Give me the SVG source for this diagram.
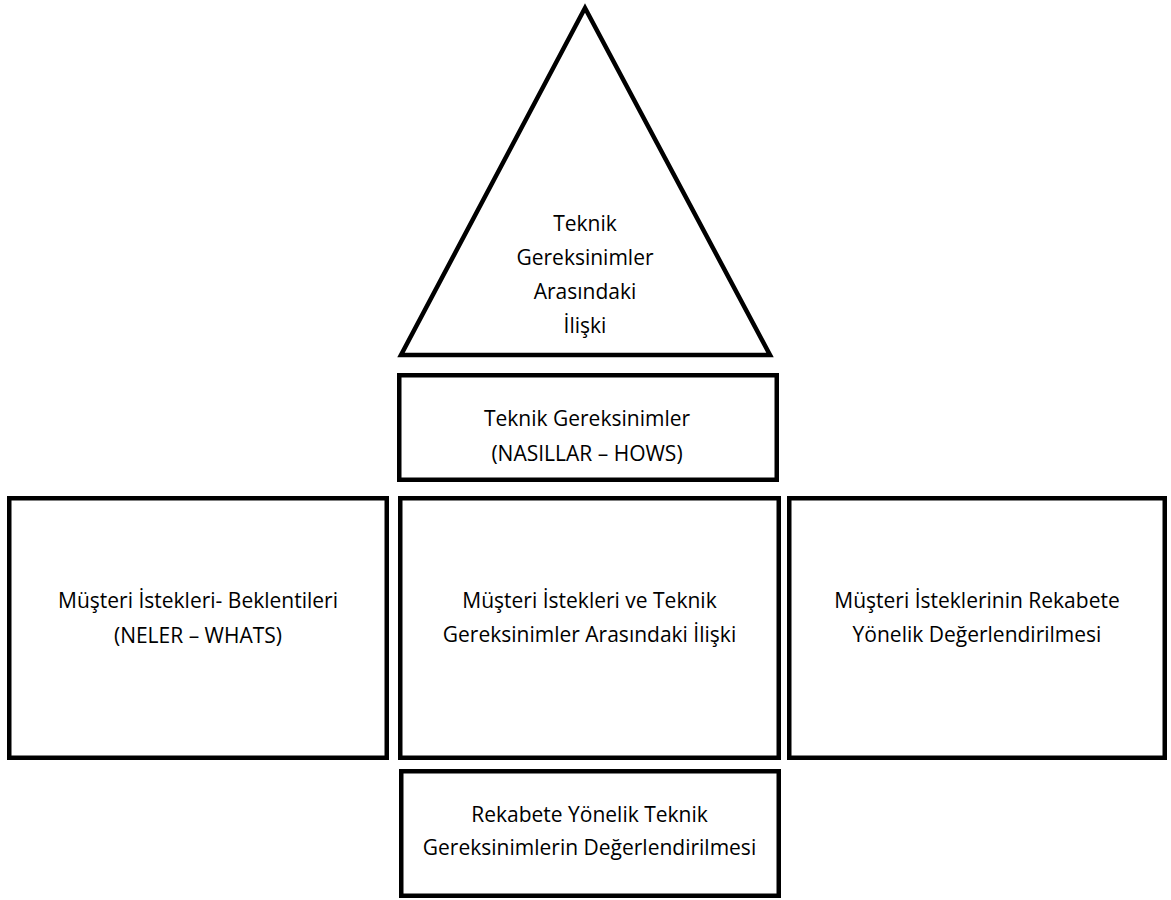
<svg xmlns="http://www.w3.org/2000/svg" width="1171" height="900" viewBox="0 0 1171 900">
<style>
.shape{fill:#fff;stroke:#000;stroke-width:4.5;stroke-linejoin:miter}
.t{font-family:"Open Sans","Liberation Sans",sans-serif;font-size:21px;fill:#000;text-anchor:middle}
</style>
<rect width="1171" height="900" fill="#fff"/>
<g id="connectors"></g>
<g id="triangle">
<polygon class="shape" points="585,8 401,355 770,355"/>
<text class="t" x="585" y="231">Teknik</text>
<text class="t" x="585" y="265">Gereksinimler</text>
<text class="t" x="585" y="299">Arasındaki</text>
<text class="t" x="585" y="333">İlişki</text>
</g>
<g id="hows">
<rect class="shape" x="399.25" y="375.25" width="377.5" height="104.5"/>
<text class="t" x="587" y="426">Teknik Gereksinimler</text>
<text class="t" x="587" y="461">(NASILLAR – HOWS)</text>
</g>
<g id="whats">
<rect class="shape" x="9.25" y="498.25" width="377.5" height="259.5"/>
<text class="t" x="198" y="608">Müşteri İstekleri- Beklentileri</text>
<text class="t" x="198" y="643">(NELER – WHATS)</text>
</g>
<g id="relationship">
<rect class="shape" x="400.25" y="498.25" width="378.5" height="259.5"/>
<text class="t" x="589.5" y="608">Müşteri İstekleri ve Teknik</text>
<text class="t" x="589.5" y="642">Gereksinimler Arasındaki İlişki</text>
</g>
<g id="competitive-customer">
<rect class="shape" x="789.25" y="498.25" width="375.5" height="259.5"/>
<text class="t" x="977" y="608">Müşteri İsteklerinin Rekabete</text>
<text class="t" x="977" y="642">Yönelik Değerlendirilmesi</text>
</g>
<g id="competitive-technical">
<rect class="shape" x="401.25" y="771.25" width="377.5" height="124.5"/>
<text class="t" x="589.5" y="822">Rekabete Yönelik Teknik</text>
<text class="t" x="589.5" y="855">Gereksinimlerin Değerlendirilmesi</text>
</g>
</svg>
